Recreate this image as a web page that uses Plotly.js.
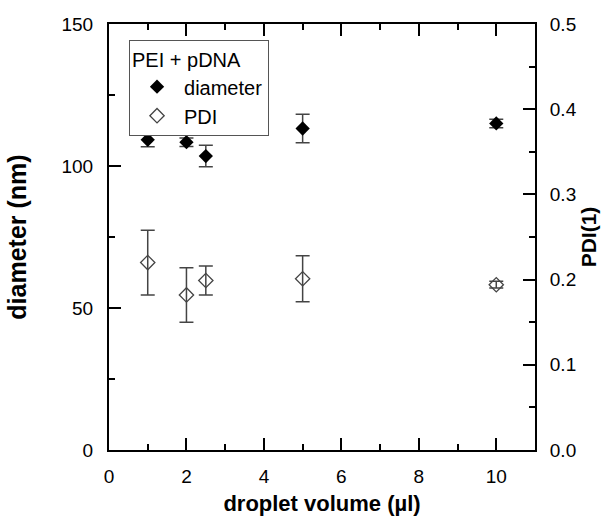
<!DOCTYPE html>
<html>
<head>
<meta charset="utf-8">
<script src="https://cdn.plot.ly/plotly-3.0.1.min.js"></script>
<style>html,body{margin:0;padding:0;background:#fff;}#chart{width:605px;height:528px;}</style>
</head>
<body>
<div id="chart"></div>
<script>
// droplet volume (µl)
const volume = [1, 2, 2.5, 5, 10];
// diameter (nm) and its error
const diameter = [109.2, 108.4, 103.5, 113.2, 115.0];
const diameterErr = [2.4, 1.5, 3.8, 5.0, 1.5];
// PDI and its error
const pdi = [0.220, 0.182, 0.199, 0.201, 0.194];
const pdiErr = [0.038, 0.032, 0.017, 0.027, 0.004];

const legendTitle = 'PEI + pDNA';
const xTitle = 'droplet volume (µl)';
const yTitle = 'diameter (nm)';
const y2Title = 'PDI(1)';

const FONT = 'Liberation Sans, Arial, sans-serif';

const traces = [
  {
    x: volume, y: diameter, name: 'diameter', type: 'scatter', mode: 'markers',
    marker: {symbol: 'diamond', size: 11, color: '#000'},
    error_y: {type: 'data', array: diameterErr, visible: true, color: '#444', thickness: 1.5, width: 7},
    yaxis: 'y'
  },
  {
    x: volume, y: pdi, name: 'PDI', type: 'scatter', mode: 'markers',
    marker: {symbol: 'diamond-open', size: 11, color: '#444', line: {width: 1.3, color: '#444'}},
    error_y: {type: 'data', array: pdiErr, visible: true, color: '#444', thickness: 1.5, width: 7},
    yaxis: 'y2'
  }
];

const axisCommon = {
  showgrid: false, zeroline: false, showline: true, linecolor: '#000', linewidth: 2,
  ticks: 'inside', ticklen: 12, tickwidth: 2, tickcolor: '#000',
  tickfont: {family: FONT, size: 19, color: '#000'}
};

const layout = {
  width: 605, height: 528,
  margin: {l: 109, r: 70, t: 24, b: 78},
  paper_bgcolor: '#fff', plot_bgcolor: '#fff',
  showlegend: true,
  legend: {
    x: 0.047, y: 0.962, xanchor: 'left', yanchor: 'top',
    bordercolor: '#555', borderwidth: 1, bgcolor: '#fff',
    title: {text: legendTitle, font: {family: FONT, size: 20, color: '#000'}},
    font: {family: FONT, size: 20, color: '#000'},
    tracegroupgap: 0, itemwidth: 44
  },
  xaxis: Object.assign({}, axisCommon, {
    range: [0, 11], dtick: 2, tick0: 0, mirror: 'ticks', ticklabelstandoff: 8,
    minor: {dtick: 1, ticks: 'inside', ticklen: 6, tickwidth: 2, tickcolor: '#000'},
    title: {text: xTitle, standoff: 10, font: {family: FONT, size: 22, color: '#000', weight: 'bold'}}
  }),
  yaxis: Object.assign({}, axisCommon, {
    range: [0, 150], dtick: 50, tick0: 0, ticklabelstandoff: 10,
    minor: {dtick: 25, ticks: 'inside', ticklen: 6, tickwidth: 2, tickcolor: '#000'},
    title: {text: yTitle, standoff: 28, font: {family: FONT, size: 25, color: '#000', weight: 'bold'}}
  }),
  yaxis2: Object.assign({}, axisCommon, {
    overlaying: 'y', side: 'right', range: [0, 0.5], dtick: 0.1, tick0: 0, tickformat: '.1f',
    ticklabelstandoff: 9,
    minor: {dtick: 0.05, ticks: 'inside', ticklen: 6, tickwidth: 2, tickcolor: '#000'},
    title: {text: y2Title, standoff: 6, font: {family: FONT, size: 21, color: '#000', weight: 'bold'}}
  })
};

Plotly.newPlot('chart', traces, layout, {displayModeBar: false, staticPlot: true});
</script>
</body>
</html>
